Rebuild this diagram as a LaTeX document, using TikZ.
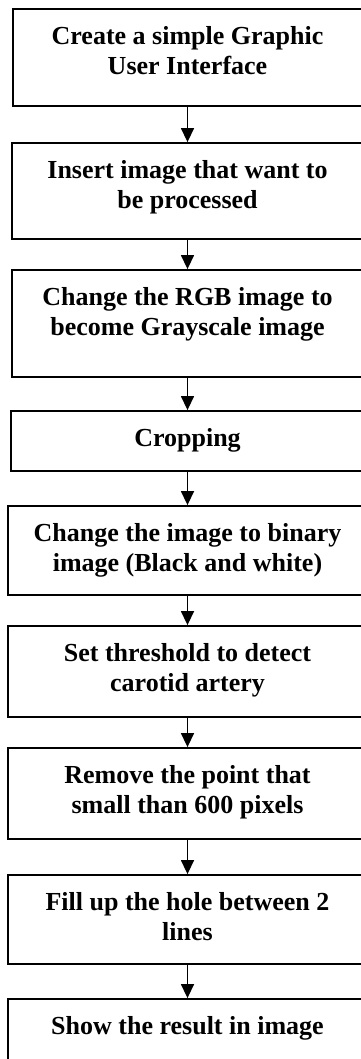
\documentclass[tikz,border=0pt]{standalone}
\usepackage{fontspec}
\setmainfont{Liberation Serif}
\usetikzlibrary{arrows.meta}

\tikzset{
  stepbox/.style={draw,line width=1.8pt,inner sep=0pt},
  steptext/.style={anchor=north,align=center,inner sep=0pt,font=\bfseries\fontsize{26}{30}\selectfont},
  flow/.style={line width=1.4pt,-{Triangle[length=14pt,width=13pt]}}
}

\begin{document}
\begin{tikzpicture}[x=1pt,y=-1pt]
  \useasboundingbox (0,0) rectangle (361,1059);
  \clip (0,0) rectangle (361,1059);
  \foreach[evaluate={375-2*\xl} as \w, evaluate={\yb-\ya} as \h, evaluate={(\ya+\yb)/2} as \ym, evaluate={\ya+14} as \yt]
    \i/\ya/\yb/\xl/\lbl in {
      1/9/106/13/{Create a simple Graphic\\User Interface},
      2/143/239/12/{Insert image that want to\\be processed},
      3/270/377/12/{Change the RGB image to\\become Grayscale image},
      4/411/471/11/{Cropping},
      5/506/595/8/{Change the image to binary\\image (Black and white)},
      6/626/717/8/{Set threshold to detect\\carotid artery},
      7/748/839/8/{Remove the point that\\small than 600 pixels},
      8/875/964/8/{Fill up the hole between 2\\lines},
      9/999/1075/8/{Show the result in image}} {
    \node[stepbox,minimum width=\w pt,minimum height=\h pt] (box\i) at (187.5,\ym) {};
    \node[steptext] (txt\i) at (187.5,\yt) {\strut\lbl};
  }
  \foreach[evaluate={int(\i+1)} as \j] \i in {1,...,8} {
    \draw[flow] (box\i) -- (box\j);
  }
\end{tikzpicture}
\end{document}
